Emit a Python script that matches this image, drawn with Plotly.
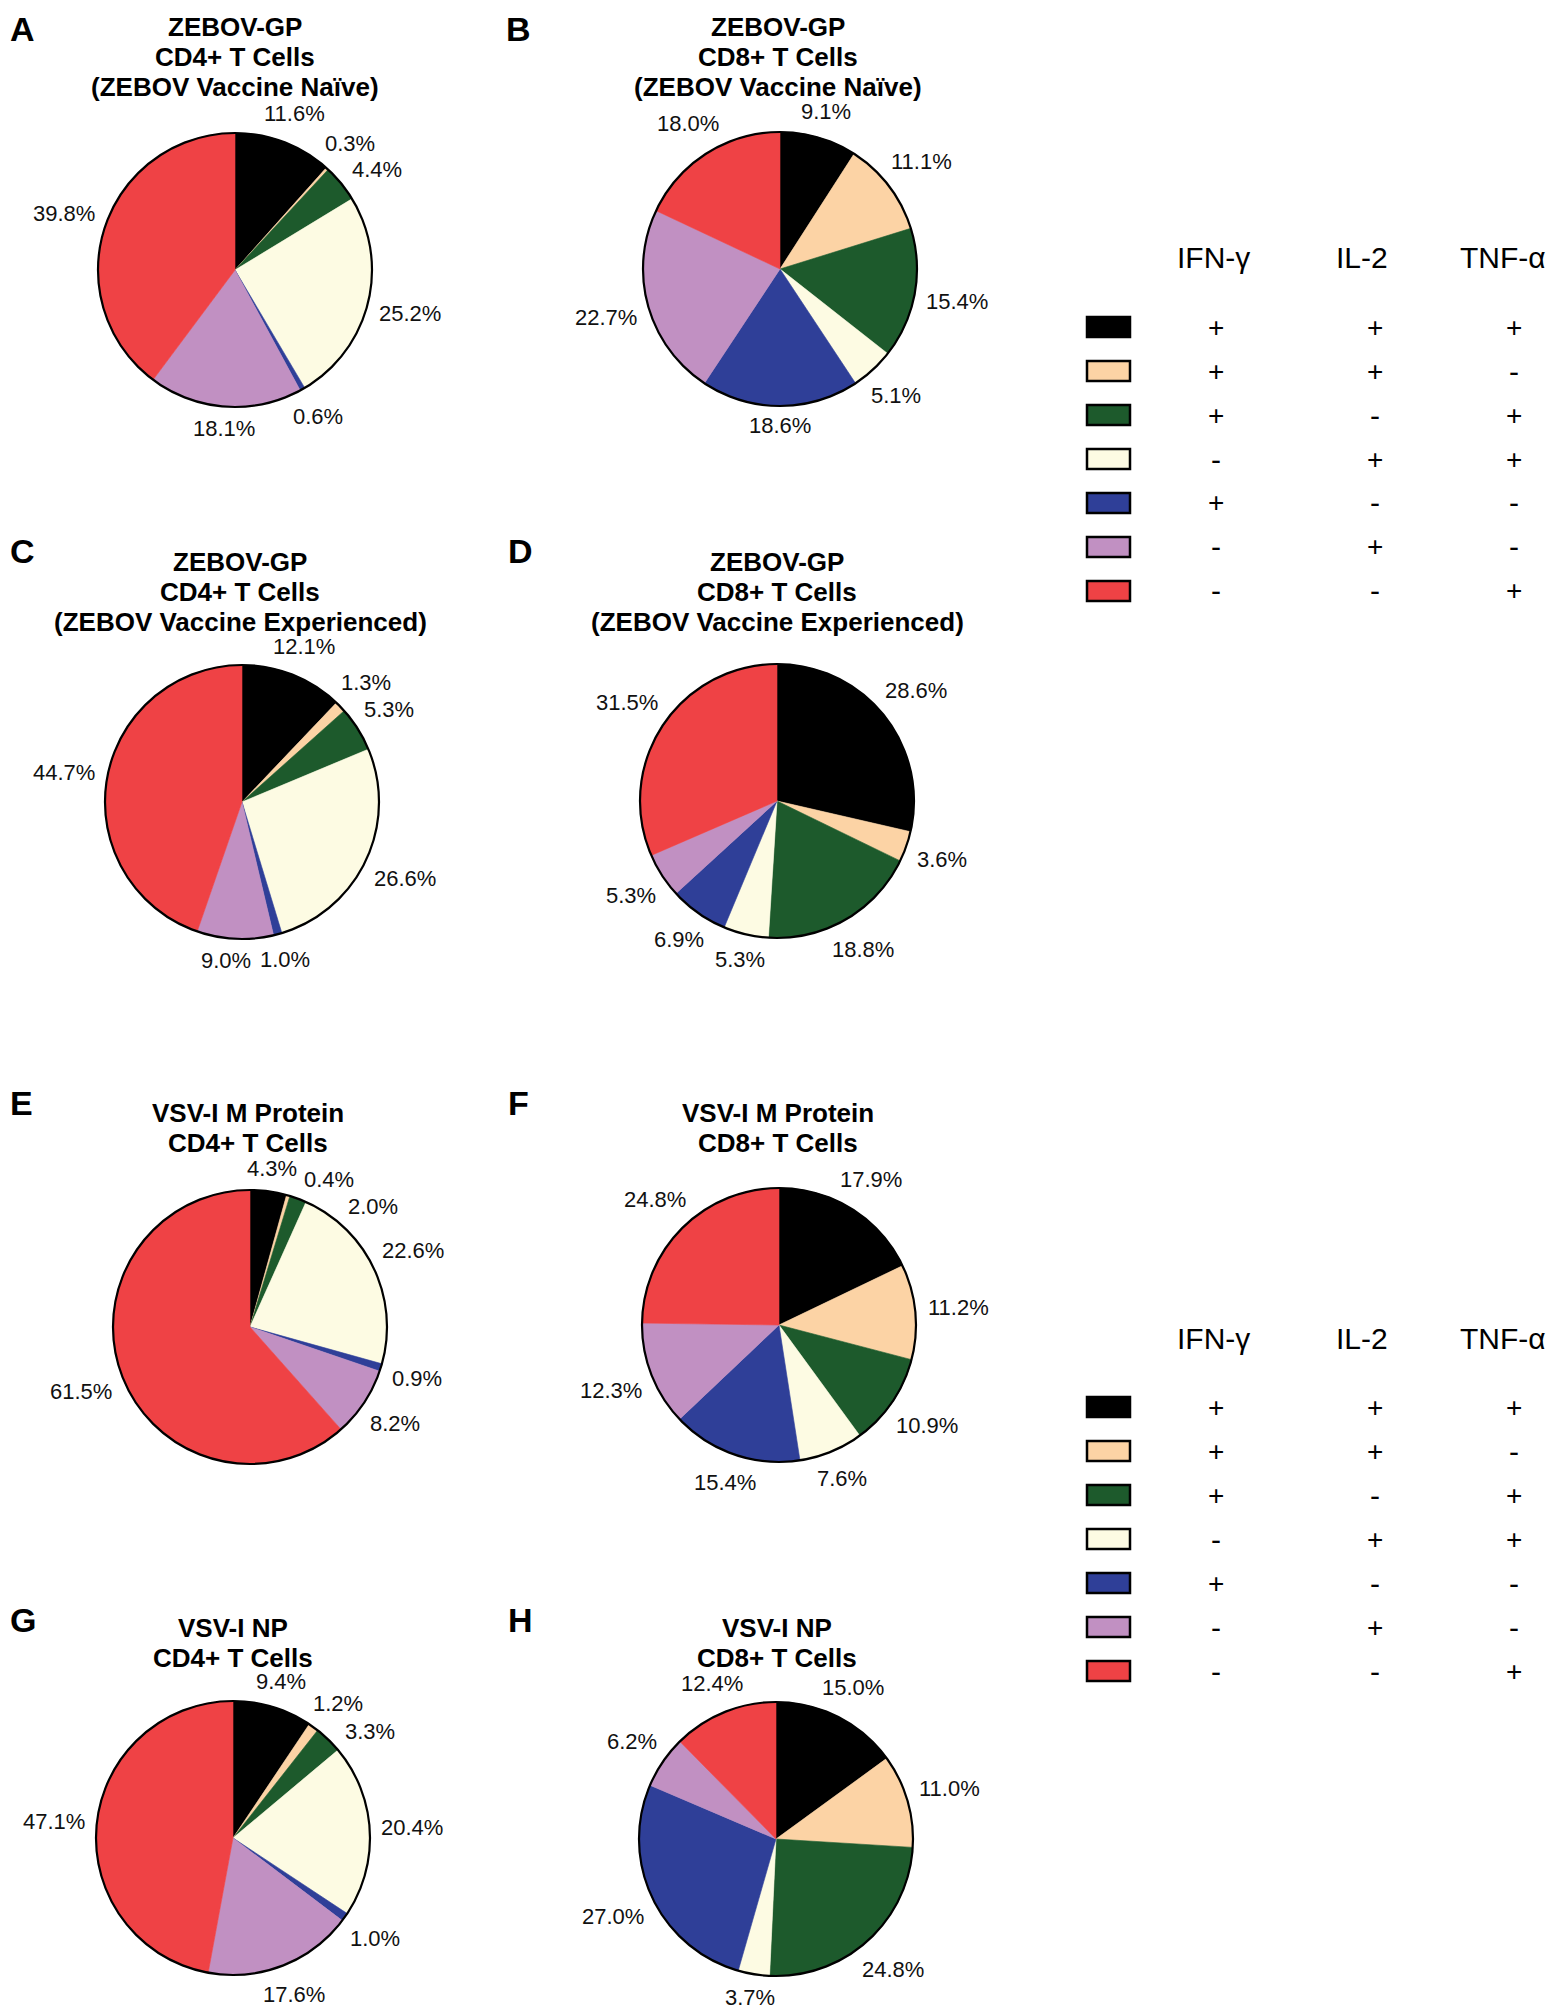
import math
import plotly.graph_objects as go

# cytokine combinations (IFN-g, IL-2, TNF-a), in slice order
combos = ["+++", "++-", "+-+", "-++", "+--", "-+-", "--+"]
colors = ["#000000", "#FCD3A5", "#1D5A2C", "#FDFBE3", "#2F3F98", "#C190C2", "#EF4245"]
ifn_signs = ["+", "+", "+", "-", "+", "-", "-"]
il2_signs = ["+", "+", "-", "+", "-", "+", "-"]
tnf_signs = ["+", "-", "+", "+", "-", "-", "+"]
headers = ["IFN-γ", "IL-2", "TNF-α"]

# percent of responding cells per panel
a_cd4_naive = [11.6, 0.3, 4.4, 25.2, 0.6, 18.1, 39.8]
b_cd8_naive = [9.1, 11.1, 15.4, 5.1, 18.6, 22.7, 18.0]
c_cd4_exp = [12.1, 1.3, 5.3, 26.6, 1.0, 9.0, 44.7]
d_cd8_exp = [28.6, 3.6, 18.8, 5.3, 6.9, 5.3, 31.5]
e_cd4_m = [4.3, 0.4, 2.0, 22.6, 0.9, 8.2, 61.5]
f_cd8_m = [17.9, 11.2, 10.9, 7.6, 15.4, 12.3, 24.8]
g_cd4_np = [9.4, 1.2, 3.3, 20.4, 1.0, 17.6, 47.1]
h_cd8_np = [15.0, 11.0, 24.8, 3.7, 27.0, 6.2, 12.4]

# the page body has an 8px margin, so the figure is that much smaller
OFF = 8
W, H = 1557 - OFF, 2009 - OFF
FONT = "Liberation Sans, Arial, sans-serif"
R = 137
LBL_SIZE = 22

panels = [
    ("A", ["ZEBOV-GP", "CD4+ T Cells", "(ZEBOV Vaccine Naïve)"], a_cd4_naive, (235, 270), (235, 27), (8, None)),
    ("B", ["ZEBOV-GP", "CD8+ T Cells", "(ZEBOV Vaccine Naïve)"], b_cd8_naive, (780, 269), (778, 27), (504, None)),
    ("C", ["ZEBOV-GP", "CD4+ T Cells", "(ZEBOV Vaccine Experienced)"], c_cd4_exp, (242, 802), (240, 562), (8, 551)),
    ("D", ["ZEBOV-GP", "CD8+ T Cells", "(ZEBOV Vaccine Experienced)"], d_cd8_exp, (777, 801), (777, 562), (506, 551)),
    ("E", ["VSV-I M Protein", "CD4+ T Cells"], e_cd4_m, (250, 1327), (248, 1113), (8, 1103)),
    ("F", ["VSV-I M Protein", "CD8+ T Cells"], f_cd8_m, (779, 1325), (778, 1113), (506, 1103)),
    ("G", ["VSV-I NP", "CD4+ T Cells"], g_cd4_np, (233, 1838), (233, 1628), (8, 1620)),
    ("H", ["VSV-I NP", "CD8+ T Cells"], h_cd8_np, (776, 1839), (777, 1628), (506, 1620)),
]


def px_x(x):
    return (x - OFF) / W


def px_y(y):
    return 1 - (y - OFF) / H


CHAR_W = {".": 0.278, "%": 0.889}


def text_w(s):
    return sum(CHAR_W.get(ch, 0.556) for ch in s) * LBL_SIZE


def label_positions(vals, cx, cy, gap=11, h=18, h_clear=26):
    total = sum(vals)
    placed = []
    cum = 0.0
    for v in vals:
        s = f"{v:.1f}%"
        w = text_w(s)
        theta = 360 * (cum + v / 2) / total
        cum += v
        while True:
            t = math.radians(theta)
            ux, uy = math.sin(t), -math.cos(t)
            d = R + gap + w / 2 * abs(ux) + h / 2 * abs(uy)
            x, y = cx + ux * d, cy + uy * d
            hit = any(abs(x - px) < (w + pw) / 2 + 6 and abs(y - py) < h_clear
                      for px, py, pw, _ in placed)
            if not hit:
                break
            theta += 1
        placed.append((x, y, w, s))
    return placed


fig = go.Figure()
annotations = []
shapes = []

for letter, title, vals, (cx, cy), (tx, ty), (lx, ly) in panels:
    dom = dict(x=[px_x(cx - R), px_x(cx + R)], y=[px_y(cy + R), px_y(cy - R)])
    fig.add_trace(go.Pie(
        values=vals, labels=combos, sort=False, direction="clockwise", rotation=0,
        marker=dict(colors=colors, line=dict(color=colors, width=0.6)),
        textinfo="none", domain=dom, showlegend=False, hoverinfo="skip",
    ))
    # outer black rim
    fig.add_trace(go.Pie(
        values=[1], sort=False, textinfo="none", hoverinfo="skip", showlegend=False,
        marker=dict(colors=["rgba(0,0,0,0)"], line=dict(color="black", width=2.2)),
        domain=dom,
    ))
    for x, y, _, s in label_positions(vals, cx, cy):
        annotations.append(dict(
            text=s, x=px_x(x), y=px_y(y), xref="paper", yref="paper", showarrow=False,
            xanchor="center", yanchor="middle",
            font=dict(family=FONT, size=LBL_SIZE, color="#111111"),
        ))
    for i, line in enumerate(title):
        annotations.append(dict(
            text=f"<b>{line}</b>", x=px_x(tx), y=px_y(ty + 30 * i), xref="paper", yref="paper",
            showarrow=False, xanchor="center", yanchor="middle",
            font=dict(family=FONT, size=26, color="black"),
        ))
    annotations.append(dict(
        text=f"<b>{letter}</b>", x=px_x(lx), y=1 if ly is None else px_y(ly),
        xref="paper", yref="paper", showarrow=False, xanchor="left",
        yanchor="top" if ly is None else "middle",
        font=dict(family=FONT, size=34, color="black"),
    ))

# colour key tables
col_x = [1216, 1375, 1514]
head_x = [1213, 1362, 1503]
for head_y, row0 in [(258, 327), (1338, 1407)]:
    for hx, hd in zip(head_x, headers):
        annotations.append(dict(
            text=hd, x=px_x(hx), y=px_y(head_y), xref="paper", yref="paper", showarrow=False,
            xanchor="center", yanchor="middle", font=dict(family=FONT, size=30, color="black"),
        ))
    for k, c in enumerate(colors):
        ry = row0 + 44 * k
        shapes.append(dict(
            type="rect", xref="paper", yref="paper",
            x0=px_x(1087), x1=px_x(1130), y0=px_y(ry + 10), y1=px_y(ry - 10),
            fillcolor=c, line=dict(color="black", width=2.5),
        ))
        for sx, sign in zip(col_x, [ifn_signs[k], il2_signs[k], tnf_signs[k]]):
            annotations.append(dict(
                text=sign, x=px_x(sx), y=px_y(ry), xref="paper", yref="paper", showarrow=False,
                xanchor="center", yanchor="middle",
                font=dict(family=FONT, size=28 if sign == "+" else 30, color="black"),
            ))

fig.update_layout(
    width=W, height=H, margin=dict(l=0, r=0, t=0, b=0),
    paper_bgcolor="white", plot_bgcolor="white",
    annotations=annotations, shapes=shapes,
)

fig.write_html("out.html")
